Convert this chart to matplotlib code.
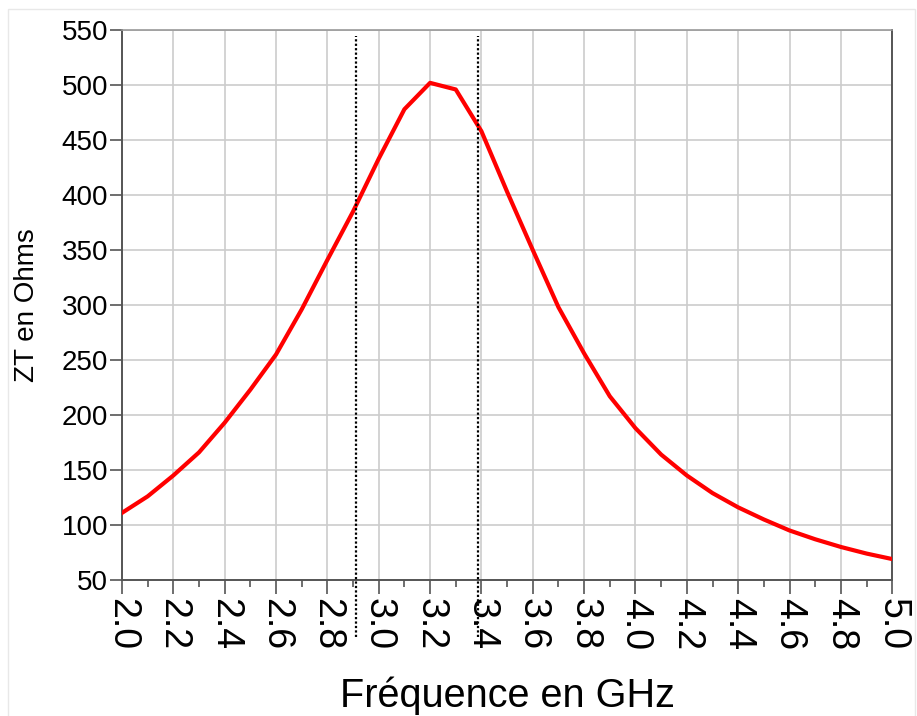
import matplotlib.pyplot as plt
from matplotlib.patches import Rectangle
import numpy as np

plt.rcParams['font.family'] = ['Liberation Sans', 'DejaVu Sans']

# frequency (GHz) and transimpedance (ohms)
freq = [2.0, 2.1, 2.2, 2.3, 2.4, 2.5, 2.6, 2.7, 2.8, 2.9,
        3.0, 3.1, 3.2, 3.3, 3.4, 3.5, 3.6, 3.7, 3.8, 3.9,
        4.0, 4.1, 4.2, 4.3, 4.4, 4.5, 4.6, 4.7, 4.8, 4.9, 5.0]
zt = [111, 126, 145, 166, 193, 223, 255, 296, 341, 385,
      433, 478, 502, 496, 458, 403, 350, 298, 256, 217,
      188, 164, 145, 129, 116, 105, 95, 87, 80, 74, 69]

# band edges
band = [2.912, 3.387]

xticks = np.round(np.arange(2.0, 5.01, 0.2), 1)
yticks = np.arange(50, 551, 50)

fig = plt.figure(figsize=(9.17, 7.16), dpi=100)
# faint frame around the plot area
fig.patches.append(Rectangle((8 / 917, -0.05), 907 / 917, 1.05 - 9 / 716,
                             transform=fig.transFigure, fill=False,
                             edgecolor='#e8e8e8', lw=1.0))
ax = fig.add_axes([0.133, 0.19, 0.84, 0.768])

ax.plot(freq, zt, color='#ff0000', lw=3.0, zorder=3)
for b in band:
    ax.plot([b, b], [-2, 545], color='black', lw=1.6, ls=(0, (1, 1)), clip_on=False, zorder=4)

ax.set_xlim(2.0, 5.0)
ax.set_ylim(50, 550)
ax.set_xticks(xticks)
ax.set_xticklabels(['%.1f' % t for t in xticks], rotation=-90, fontsize=27)
ax.set_xticks(np.round(np.arange(2.1, 5.0, 0.2), 1), minor=True)
ax.set_yticks(yticks)
ax.set_yticklabels([str(t) for t in yticks], fontsize=20)

ax.grid(True, which='major', color='#cccccc', lw=1.2, zorder=0)
ax.tick_params(axis='x', which='major', length=10, width=1.2, color='#555555', pad=3)
ax.tick_params(axis='x', which='minor', length=5, width=1.2, color='#555555')
ax.tick_params(axis='y', length=9, width=1.2, color='#555555', pad=1)
for side in ['left', 'bottom', 'right']:
    ax.spines[side].set_color('#555555')
    ax.spines[side].set_linewidth(1.4)
ax.spines['top'].set_color('#999999')
ax.spines['top'].set_linewidth(1.2)

ax.set_xlabel('Fréquence en GHz', fontsize=28.5, va='baseline')
ax.xaxis.set_label_coords(0.5, -0.231)
ax.set_ylabel('ZT en Ohms', fontsize=20)
ax.yaxis.set_label_coords(-0.106, 0.5)

fig.savefig('out.png', dpi=100)
